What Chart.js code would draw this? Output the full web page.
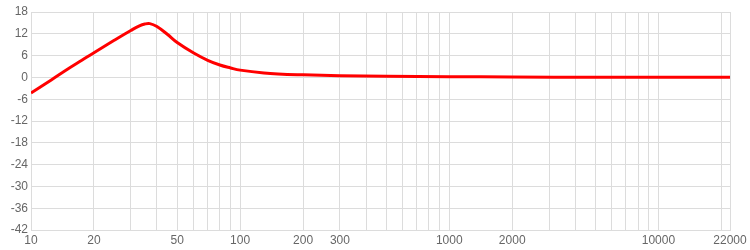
<!DOCTYPE html>
<html lang="en">
<head>
    <meta charset="UTF-8">
    <title>Frequency Response</title>
    <style>
        * {
            margin: 0;
            padding: 0;
            box-sizing: border-box;
        }

        body {
            background: #fff;
            width: 750px;
            height: 250px;
            overflow: hidden;
        }

        .chart-box {
            position: relative;
            width: 750px;
            height: 250px;
        }
    </style>
</head>
<body>

    <div class="chart-box">
        <canvas id="responseChart"></canvas>
    </div>

    <script src="https://cdn.jsdelivr.net/npm/chart.js"></script>
    <script>
        // frequency (Hz) and gain (dB)
        const freqs = [10, 12.5, 15, 17.5, 20, 25, 30, 33, 35, 37, 40, 45, 50, 60, 70, 80, 90, 100, 130, 160, 200, 300, 500, 1000, 2000, 5000, 10000, 22000];
        const gains = [-4.3, -0.7, 2.3, 4.7, 6.8, 10.2, 12.9, 14.2, 14.7, 14.8, 14.0, 11.8, 9.6, 6.7, 4.7, 3.4, 2.6, 2.0, 1.2, 0.9, 0.7, 0.45, 0.3, 0.2, 0.1, 0.05, 0.05, 0.05];

        // labelled ticks on the frequency axis
        const xLabels = [10, 20, 50, 100, 200, 300, 1000, 2000, 10000, 22000];
        const yMin = -42;
        const yMax = 18;

        const points = freqs.map((f, i) => ({ x: f, y: gains[i] }));

        const ctx = document.getElementById('responseChart').getContext('2d');
        const responseChart = new Chart(ctx, {
            type: 'line',
            data: {
                datasets: [{
                    data: points,
                    borderColor: '#ff0000',
                    borderWidth: 3,
                    pointRadius: 0,
                    fill: false,
                    tension: 0.4
                }]
            },
            options: {
                responsive: true,
                maintainAspectRatio: false,
                animation: false,
                layout: {
                    padding: { top: 12, right: 20, left: 0, bottom: 0 }
                },
                plugins: {
                    legend: { display: false },
                    tooltip: { enabled: false }
                },
                scales: {
                    x: {
                        type: 'logarithmic',
                        min: 10,
                        max: 22000,
                        afterBuildTicks: scale => {
                            const ticks = [];
                            for (let p = 10; p <= 10000; p *= 10) {
                                for (let m = 1; m <= 9; m++) {
                                    if (m * p <= 22000) ticks.push({ value: m * p });
                                }
                            }
                            ticks.push({ value: 22000 });
                            scale.ticks = ticks;
                        },
                        afterFit: scale => { scale.height = 20; },
                        grid: {
                            color: '#dcdcdc',
                            drawTicks: false
                        },
                        border: { color: '#dcdcdc' },
                        ticks: {
                            autoSkip: false,
                            maxRotation: 0,
                            padding: 3,
                            color: '#666',
                            font: { family: 'Arial, "Liberation Sans", sans-serif', size: 12 },
                            callback: value => xLabels.includes(value) ? String(value) : ''
                        }
                    },
                    y: {
                        min: yMin,
                        max: yMax,
                        afterFit: scale => { scale.width = 31; },
                        grid: {
                            color: '#dcdcdc',
                            drawTicks: false
                        },
                        border: { color: '#dcdcdc' },
                        ticks: {
                            stepSize: 3,
                            padding: 3,
                            color: '#666',
                            font: { family: 'Arial, "Liberation Sans", sans-serif', size: 12 },
                            callback: value => value % 6 === 0 ? String(value) : ''
                        }
                    }
                }
            }
        });
    </script>

</body>
</html>
